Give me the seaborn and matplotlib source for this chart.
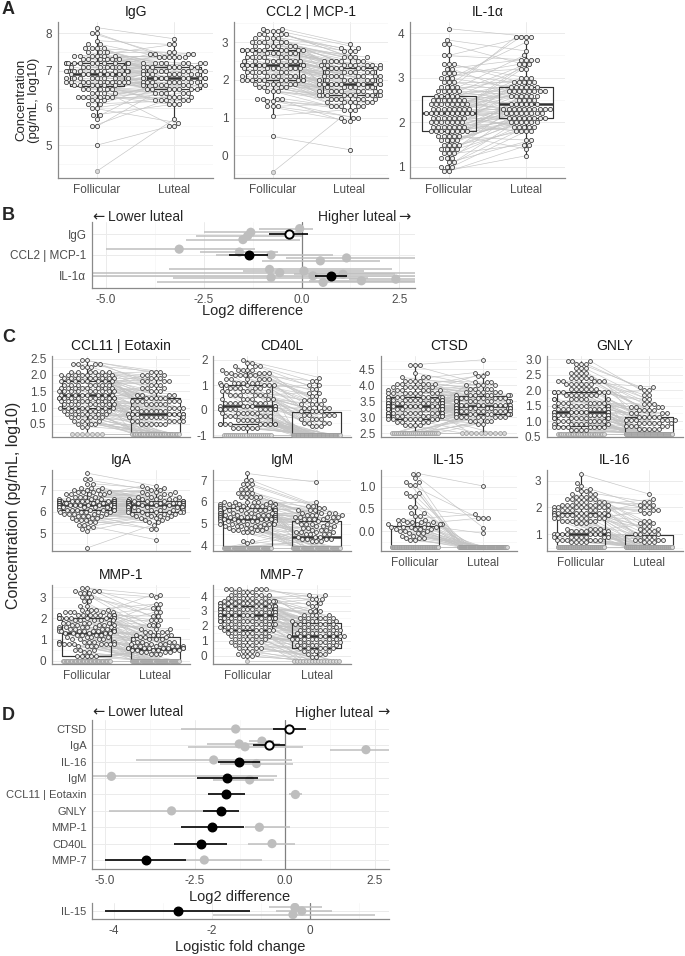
import warnings

import matplotlib
matplotlib.use("Agg")
import matplotlib.pyplot as plt
import numpy as np
import pandas as pd
import seaborn as sns

warnings.filterwarnings("ignore")

W, H = 685, 956
PHASES = ["Follicular", "Luteal"]

# ---------------------------------------------------------------------------
# Concentrations (log10 pg/mL): value levels and number of samples per level.
# *_LOD is the lower limit of detection, *_LOD_N = [follicular, luteal] counts.
# ---------------------------------------------------------------------------
IGG_FOL_V = [8.15, 8.0, 7.8, 7.7, 7.6, 7.5, 7.4, 7.3, 7.2, 7.1, 7.0, 6.9, 6.8, 6.7, 6.6, 6.5, 6.4, 6.3, 6.2, 6.1, 6.0, 5.8, 5.7, 5.5, 5.0]
IGG_FOL_N = [1, 2, 1, 2, 4, 3, 6, 6, 12, 8, 10, 8, 8, 10, 6, 5, 4, 6, 3, 2, 2, 2, 1, 2, 1]
IGG_LUT_V = [7.85, 7.7, 7.5, 7.45, 7.35, 7.2, 7.1, 7.0, 6.9, 6.8, 6.7, 6.6, 6.5, 6.4, 6.3, 6.2, 6.1, 5.7, 5.6, 5.5]
IGG_LUT_N = [1, 2, 2, 4, 6, 8, 8, 8, 8, 10, 8, 8, 7, 5, 4, 5, 3, 1, 1, 2]
IGG_LOD, IGG_LOD_N = 4.3, [1, 0]

CCL2_FOL_V = [3.35, 3.3, 3.2, 3.1, 3.0, 2.9, 2.8, 2.7, 2.6, 2.5, 2.4, 2.3, 2.2, 2.1, 2.0, 1.9, 1.8, 1.7, 1.5, 1.45, 1.3, 1.05, 0.5]
CCL2_FOL_N = [2, 3, 4, 4, 5, 6, 10, 6, 6, 8, 12, 8, 6, 8, 10, 6, 4, 3, 4, 2, 3, 1, 1]
CCL2_LUT_V = [2.95, 2.85, 2.75, 2.6, 2.5, 2.4, 2.3, 2.2, 2.1, 2.0, 1.9, 1.8, 1.7, 1.6, 1.5, 1.4, 1.3, 1.2, 1.0, 0.9, 0.15]
CCL2_LUT_N = [1, 2, 3, 4, 6, 8, 8, 6, 8, 8, 10, 6, 8, 10, 6, 6, 5, 3, 3, 2, 1]
CCL2_LOD, CCL2_LOD_N = -0.45, [1, 0]

IL1A_FOL_V = [4.1, 3.85, 3.75, 3.5, 3.3, 3.2, 3.1, 3.0, 2.9, 2.8, 2.7, 2.6, 2.5, 2.4, 2.3, 2.2, 2.1, 2.0, 1.9, 1.8, 1.7, 1.6, 1.5, 1.4, 1.3, 1.2, 1.1, 1.0, 0.9]
IL1A_FOL_N = [1, 1, 2, 2, 3, 2, 3, 3, 3, 4, 5, 5, 7, 8, 8, 10, 7, 7, 7, 8, 5, 4, 4, 4, 3, 3, 2, 3, 2]
IL1A_LUT_V = [3.92, 3.8, 3.6, 3.5, 3.4, 3.3, 3.2, 3.0, 2.9, 2.8, 2.7, 2.6, 2.5, 2.4, 2.3, 2.2, 2.1, 2.0, 1.9, 1.8, 1.6, 1.5, 1.4, 1.25]
IL1A_LUT_N = [4, 1, 1, 1, 4, 3, 2, 3, 5, 6, 8, 6, 4, 6, 10, 8, 8, 6, 5, 4, 2, 2, 1, 1]
IL1A_LOD, IL1A_LOD_N = 0.9, [0, 0]

CCL11_FOL_V = [2.45, 2.35, 2.25, 2.1, 2.0, 1.9, 1.8, 1.7, 1.6, 1.5, 1.4, 1.3, 1.2, 1.1, 1.0, 0.9, 0.8, 0.7, 0.6, 0.5, 0.42]
CCL11_FOL_N = [2, 4, 3, 6, 8, 8, 8, 7, 8, 9, 8, 12, 8, 8, 8, 7, 6, 5, 4, 3, 2]
CCL11_LUT_V = [2.1, 2.0, 1.9, 1.8, 1.7, 1.6, 1.5, 1.4, 1.3, 1.2, 1.1, 1.0, 0.9, 0.8, 0.7, 0.6, 0.5]
CCL11_LUT_N = [3, 3, 3, 4, 3, 3, 3, 4, 5, 6, 5, 6, 6, 8, 8, 6, 6]
CCL11_LOD, CCL11_LOD_N = 0.2, [7, 30]

CD40L_FOL_V = [2.0, 1.9, 1.75, 1.6, 1.5, 1.4, 1.25, 1.1, 1.0, 0.9, 0.75, 0.6, 0.45, 0.3, 0.15, 0.05, -0.1, -0.25, -0.4, -0.55, -0.7]
CD40L_FOL_N = [1, 2, 3, 5, 5, 5, 6, 6, 6, 5, 6, 6, 6, 7, 6, 10, 6, 6, 5, 9, 6]
CD40L_LUT_V = [1.3, 1.15, 1.0, 0.85, 0.7, 0.55, 0.4, 0.25, 0.1, -0.05, -0.2, -0.35, -0.5, -0.65]
CD40L_LUT_N = [1, 2, 2, 2, 2, 2, 3, 4, 4, 4, 5, 4, 4, 3]
CD40L_LOD, CD40L_LOD_N = -1.0, [24, 60]

CTSD_FOL_V = [4.65, 4.4, 4.25, 4.15, 4.05, 3.95, 3.85, 3.75, 3.65, 3.55, 3.45, 3.35, 3.25, 3.15, 3.05, 2.95, 2.85, 2.75]
CTSD_FOL_N = [3, 1, 3, 4, 5, 6, 6, 8, 8, 10, 12, 14, 14, 12, 10, 8, 4, 4]
CTSD_LUT_V = [4.8, 4.4, 4.3, 4.1, 4.0, 3.9, 3.8, 3.7, 3.6, 3.5, 3.4, 3.3, 3.2, 3.1, 3.0, 2.9, 2.8]
CTSD_LUT_N = [1, 2, 2, 3, 4, 4, 5, 7, 8, 9, 10, 12, 10, 9, 8, 4, 2]
CTSD_LOD, CTSD_LOD_N = 2.5, [25, 10]

GNLY_FOL_V = [2.95, 2.85, 2.7, 2.55, 2.4, 2.3, 2.2, 2.05, 1.95, 1.85, 1.7, 1.6, 1.5, 1.4, 1.3, 1.2, 1.1, 1.0, 0.9, 0.8, 0.7]
GNLY_FOL_N = [3, 3, 3, 4, 5, 5, 6, 6, 7, 7, 7, 7, 7, 8, 10, 10, 8, 7, 6, 8, 4]
GNLY_LUT_V = [2.1, 2.0, 1.85, 1.7, 1.55, 1.45, 1.35, 1.25, 1.15, 1.05, 0.95, 0.85, 0.75]
GNLY_LUT_N = [2, 2, 2, 2, 3, 4, 4, 4, 5, 6, 6, 5, 5]
GNLY_LOD, GNLY_LOD_N = 0.6, [28, 55]

IGA_FOL_V = [7.8, 7.5, 7.3, 7.1, 7.0, 6.9, 6.8, 6.7, 6.6, 6.5, 6.4, 6.3, 6.2, 6.1, 6.0, 5.9, 5.8, 5.7, 5.6, 5.5, 5.4, 5.3, 5.2, 5.1, 4.3]
IGA_FOL_N = [1, 2, 2, 3, 3, 4, 5, 4, 5, 14, 16, 14, 10, 8, 5, 5, 4, 3, 3, 2, 2, 2, 1, 1, 1]
IGA_LUT_V = [7.2, 7.1, 7.0, 6.9, 6.8, 6.7, 6.6, 6.5, 6.4, 6.3, 6.2, 6.1, 6.0, 5.9, 5.8, 5.7, 5.6, 5.5, 5.4, 5.2, 4.7]
IGA_LUT_N = [2, 2, 2, 3, 3, 4, 5, 8, 10, 10, 8, 6, 6, 4, 4, 3, 2, 2, 1, 2, 1]
IGA_LOD, IGA_LOD_N = 4.3, [0, 0]

IGM_FOL_V = [7.3, 7.0, 6.8, 6.6, 6.4, 6.2, 6.0, 5.9, 5.8, 5.7, 5.6, 5.5, 5.4, 5.3, 5.2, 5.1, 5.0, 4.9, 4.8, 4.7, 4.6, 4.2, 4.1]
IGM_FOL_N = [1, 2, 3, 3, 4, 5, 6, 6, 7, 7, 8, 9, 8, 8, 8, 7, 6, 5, 4, 4, 3, 2, 1]
IGM_LUT_V = [6.9, 6.0, 5.8, 5.7, 5.6, 5.5, 5.4, 5.3, 5.2, 5.1, 5.0, 4.9, 4.8, 4.7, 4.6, 4.5, 4.4, 4.3, 4.2]
IGM_LUT_N = [1, 1, 2, 2, 3, 4, 4, 5, 4, 4, 4, 3, 3, 3, 4, 4, 3, 4, 3]
IGM_LOD, IGM_LOD_N = 3.9, [45, 45]

IL15_FOL_V = [1.3, 1.2, 1.1, 1.05, 0.85, 0.8, 0.55, 0.4, 0.35, 0.25, 0.2, 0.15, 0.1, 0.05, 0.0, -0.05, -0.1, -0.15, -0.2]
IL15_FOL_N = [2, 1, 2, 2, 2, 2, 2, 2, 2, 3, 4, 6, 5, 4, 3, 3, 2, 3, 2]
IL15_LUT_V = [1.02, 0.38, 0.3, 0.08, -0.05]
IL15_LUT_N = [1, 1, 3, 1, 1]
IL15_LOD, IL15_LOD_N = -0.36, [68, 90]

IL16_FOL_V = [3.25, 2.9, 2.8, 2.7, 2.6, 2.5, 2.4, 2.3, 2.2, 2.1, 2.0, 1.9, 1.8, 1.7, 1.6, 1.5, 1.4, 1.2, 1.1, 1.0, 0.9, 0.8, 0.7]
IL16_FOL_N = [1, 1, 1, 2, 2, 3, 3, 4, 5, 6, 7, 7, 8, 8, 7, 5, 3, 4, 6, 8, 7, 6, 4]
IL16_LUT_V = [2.5, 2.3, 2.2, 2.1, 2.0, 1.9, 1.8, 1.5, 1.4, 1.3, 1.2, 1.1, 1.0, 0.9, 0.8, 0.72]
IL16_LUT_N = [1, 1, 2, 2, 2, 3, 2, 2, 2, 2, 2, 3, 3, 3, 4, 3]
IL16_LOD, IL16_LOD_N = 0.52, [70, 70]

MMP1_FOL_V = [3.45, 3.3, 3.2, 3.0, 2.8, 2.6, 2.4, 2.3, 2.15, 2.0, 1.9, 1.8, 1.7, 1.6, 1.5, 1.4, 1.3, 1.2, 1.1, 1.0, 0.9, 0.8, 0.7, 0.5, 0.4, 0.2]
MMP1_FOL_N = [2, 3, 3, 3, 2, 2, 4, 6, 10, 10, 5, 5, 5, 6, 6, 8, 5, 4, 4, 4, 6, 8, 4, 3, 2, 5]
MMP1_LUT_V = [3.1, 3.0, 2.7, 2.5, 2.3, 2.1, 1.9, 1.7, 1.5, 1.35, 1.2, 1.1, 1.0, 0.9, 0.8, 0.7, 0.6, 0.5, 0.4, 0.3]
MMP1_LUT_N = [2, 1, 2, 2, 2, 2, 3, 3, 3, 4, 4, 3, 4, 4, 5, 6, 8, 6, 4, 3]
MMP1_LOD, MMP1_LOD_N = 0.0, [36, 45]

MMP7_FOL_V = [4.5, 4.3, 4.1, 3.9, 3.7, 3.5, 3.3, 3.1, 2.9, 2.7, 2.5, 2.3, 2.1, 1.9, 1.7, 1.5, 1.3, 1.1, 0.9, 0.7, 0.5, 0.3, 0.1, -0.05]
MMP7_FOL_N = [6, 4, 5, 6, 8, 8, 10, 10, 10, 10, 10, 8, 8, 7, 7, 6, 5, 5, 4, 4, 3, 3, 2, 3]
MMP7_LUT_V = [4.05, 3.8, 3.5, 3.3, 3.0, 2.7, 2.5, 2.3, 2.1, 1.9, 1.7, 1.5, 1.3, 1.1, 0.9, 0.7, 0.5, 0.3, 0.1, -0.1]
MMP7_LUT_N = [2, 3, 2, 2, 3, 4, 5, 6, 6, 5, 6, 6, 8, 7, 6, 6, 5, 4, 3, 2]
MMP7_LOD, MMP7_LOD_N = -0.33, [1, 16]

# ---------------------------------------------------------------------------
# Forest plots: log2 difference (luteal vs follicular) with 95% CI.
# Black = this study, grey = previously published estimates.
# ---------------------------------------------------------------------------
B_LABELS = ["IgG", "CCL2 | MCP-1", "IL-1α"]
B_EST = [-0.33, -1.35, 0.74]
B_LO = [-0.84, -1.85, 0.33]
B_HI = [0.16, -0.86, 1.15]
B_NS = [True, False, False]
B_REF_ROW = ["IgG"] * 4 + ["CCL2 | MCP-1"] * 5 + ["IL-1α"] * 9
B_REF_EST = [-0.05, -1.3, -1.38, -1.5, -3.13, -1.59, -0.78, 1.15, 0.48,
             -0.82, 0.06, -0.56, 1.06, 0.29, -0.78, 2.41, 1.53, 0.55]
B_REF_LO = [-1.1, -2.5, -2.7, -2.95, -5.0, -2.6, -2.2, -0.4, -1.0,
            -3.4, -1.5, -5.4, -0.2, -5.4, -3.3, 1.2, 0.2, -3.7]
B_REF_HI = [0.3, -0.1, 0.0, -0.05, -1.2, -0.6, 0.8, 2.9, 2.0,
            2.3, 1.6, 2.9, 2.4, 2.9, 1.7, 2.9, 2.9, 2.9]

D_LABELS = ["CTSD", "IgA", "IL-16", "IgM", "CCL11 | Eotaxin", "GNLY", "MMP-1", "CD40L", "MMP-7"]
D_EST = [0.12, -0.45, -1.27, -1.6, -1.63, -1.78, -2.02, -2.33, -3.87]
D_LO = [-0.33, -0.88, -1.85, -2.43, -2.15, -2.28, -2.9, -3.08, -5.0]
D_HI = [0.58, 0.0, -0.68, -0.76, -1.11, -1.27, -1.14, -1.6, -2.76]
D_NS = [True, True, False, False, False, False, False, False, False]
D_REF_ROW = ["CTSD", "IgA", "IgA", "IgA", "IgA", "IL-16", "IL-16", "IgM", "IgM",
             "CCL11 | Eotaxin", "GNLY", "MMP-1", "CD40L", "MMP-7"]
D_REF_EST = [-1.37, -0.64, -1.27, -1.11, 2.25, -1.98, -0.79, -4.82, -0.98, 0.29, -3.15, -0.71, -0.36, -2.24]
D_REF_LO = [-2.9, -1.0, -2.17, -2.7, 1.25, -4.14, -1.8, -5.4, -2.0, 0.12, -4.9, -1.11, -1.02, -2.76]
D_REF_HI = [0.0, -0.3, -0.14, 0.5, 2.9, 0.19, 0.22, -0.23, -0.3, 0.48, -1.6, 0.14, 0.28, -0.65]

# IL-15: logistic fold change (detected vs not detected)
E_LABELS = ["IL-15"]
E_EST = [-2.69]
E_LO = [-4.18]
E_HI = [-1.22]
E_NS = [False]
E_REF_ROW = ["IL-15"] * 3
E_REF_EST = [-0.31, -0.17, -0.35]
E_REF_LO = [-0.83, -0.7, -1.98]
E_REF_HI = [0.24, 0.45, 1.33]

# ---------------------------------------------------------------------------
sns.set_style("white")
plt.rcParams["font.family"] = ["Liberation Sans", "DejaVu Sans"]
plt.rcParams["axes.unicode_minus"] = False

GRID = "#EBEBEB"
MINOR = "#F5F5F5"
AXIS = "#8A8A8A"
TICK = "#4D4D4D"
BOX = "#333333"
PT_FACE = "#EDEDED"
PT_EDGE = "#333333"
LOD_FACE = "#D9D9D9"
LOD_EDGE = "#9A9A9A"
LINE = "#C4C4C4"
REF = "#BEBEBE"

fig = plt.figure(figsize=(W / 100, H / 100), dpi=100)


def add_ax(left, top, right, bottom):
    return fig.add_axes([left / W, 1 - bottom / H, (right - left) / W, (bottom - top) / H])


def style(ax, fontsize=8.5):
    sns.despine(ax=ax)
    for s in ["left", "bottom"]:
        ax.spines[s].set_color(AXIS)
        ax.spines[s].set_linewidth(0.9)
    ax.tick_params(which="major", colors=AXIS, labelcolor=TICK, length=2.5, width=0.7,
                   pad=1.5, labelsize=fontsize)
    ax.tick_params(which="minor", length=0)
    ax.grid(True, which="major", color=GRID, lw=0.7)
    ax.grid(True, which="minor", color=MINOR, lw=0.5)
    ax.set_axisbelow(True)


def lod_positions(center, n, ax):
    ppu = ax.get_position().width * W / 2  # pixels per category
    step = min(5.0 / ppu, 0.7 / max(n, 1))
    return center + (np.arange(n) - (n - 1) / 2) * step


PAIRS = []


def box_panel(ax, title, fol_v, fol_n, lut_v, lut_n, lod, lod_n, ylim, yticks, fmt,
              mix, size=2.9, show_x=True):
    fol = np.repeat(np.asarray(fol_v, float), fol_n)
    lut = np.repeat(np.asarray(lut_v, float), lut_n)
    lod_f = np.full(lod_n[0], float(lod))
    lod_l = np.full(lod_n[1], float(lod))

    full = pd.DataFrame({
        "phase": ["Follicular"] * (len(fol) + len(lod_f)) + ["Luteal"] * (len(lut) + len(lod_l)),
        "value": np.concatenate([fol, lod_f, lut, lod_l]),
    })
    det = pd.DataFrame({
        "phase": ["Follicular"] * len(fol) + ["Luteal"] * len(lut),
        "value": np.concatenate([fol, lut]),
    })

    sns.boxplot(data=full, x="phase", y="value", order=PHASES, width=0.7, fill=False,
                color=BOX, linewidth=0.85, showfliers=False,
                medianprops={"linewidth": 1.8}, capprops={"linewidth": 0}, ax=ax)

    k0 = len(ax.collections)
    sns.swarmplot(data=det, x="phase", y="value", order=PHASES, size=size, color=PT_FACE,
                  edgecolor=PT_EDGE, linewidth=0.55, warn_thresh=1, ax=ax, zorder=4)
    swarms = ax.collections[k0:k0 + 2]

    xf = lod_positions(0, len(lod_f), ax)
    xl = lod_positions(1, len(lod_l), ax)
    if len(lod_f) + len(lod_l):
        lod_df = pd.DataFrame({"x": np.r_[xf, xl], "y": np.r_[lod_f, lod_l]})
        sns.scatterplot(data=lod_df, x="x", y="y", s=size ** 2, color=LOD_FACE,
                        edgecolor=LOD_EDGE, linewidth=0.55, ax=ax, zorder=3, legend=False)

    style(ax)
    ax.set_xlim(-0.5, 1.5)
    ax.set_ylim(*ylim)
    ax.set_yticks(yticks, [fmt.format(t) for t in yticks])
    d = yticks[1] - yticks[0]
    minor = [t - d / 2 for t in yticks] + [yticks[-1] + d / 2]
    ax.set_yticks([m for m in minor if ylim[0] < m < ylim[1]], minor=True)
    ax.set_xticks([0, 1], PHASES if show_x else ["", ""])
    ax.set_xlabel("")
    ax.set_ylabel("")
    ax.set_title(title, fontsize=10, pad=4, color="#1A1A1A")
    PAIRS.append(dict(ax=ax, swarms=swarms, fol=fol, lut=lut, xf=xf, xl=xl,
                      lod_f=lod_f, lod_l=lod_l, mix=mix, ylim=ylim))


def forest(ax, labels, est, lo, hi, ns, ref_row, ref_est, ref_lo, ref_hi,
           xlim, ylim, xticks, xlabels, minor, ysize=8.5):
    y = np.arange(len(labels), dtype=float)
    ry = np.array([labels.index(r) for r in ref_row], dtype=float)
    for row in np.unique(ry):
        idx = np.flatnonzero(ry == row)
        step = min(0.22, 0.7 / len(idx))
        ry[idx] += (np.arange(len(idx)) - (len(idx) - 1) / 2) * step

    ax.axvline(0, color="#808080", lw=0.9, zorder=1.5)
    ax.hlines(ry, ref_lo, ref_hi, color=REF, lw=1.1, zorder=2)
    sns.scatterplot(x=np.asarray(ref_est, float), y=ry, s=44, color=REF, edgecolor="none",
                    ax=ax, zorder=3, legend=False)
    ax.hlines(y, lo, hi, color="black", lw=1.2, zorder=4)
    est = np.asarray(est, float)
    ns = np.asarray(ns, bool)
    if (~ns).any():
        sns.scatterplot(x=est[~ns], y=y[~ns], s=38, color="black", edgecolor="black",
                        linewidth=1.0, ax=ax, zorder=5, legend=False)
    if ns.any():
        sns.scatterplot(x=est[ns], y=y[ns], s=36, color="white", edgecolor="black",
                        linewidth=1.4, ax=ax, zorder=5, legend=False)

    style(ax, fontsize=8.5)
    ax.tick_params(axis="y", labelsize=ysize)
    ax.set_xlim(*xlim)
    ax.set_ylim(*ylim)
    ax.set_yticks(y, labels)
    ax.set_xticks(xticks, xlabels)
    ax.set_xticks(minor, minor=True)
    ax.set_xlabel("")
    ax.set_ylabel("")


def ftext(x, y, s, **kw):
    fig.text(x / W, 1 - y / H, s, **kw)


# ---------------- panel A ----------------
box_panel(add_ax(58, 22, 213, 178), "IgG", IGG_FOL_V, IGG_FOL_N, IGG_LUT_V, IGG_LUT_N,
          IGG_LOD, IGG_LOD_N, (4.12, 8.3), [5, 6, 7, 8], "{:.0f}", mix=0.6, size=3.0)
box_panel(add_ax(234, 22, 388, 178), "CCL2 | MCP-1", CCL2_FOL_V, CCL2_FOL_N, CCL2_LUT_V,
          CCL2_LUT_N, CCL2_LOD, CCL2_LOD_N, (-0.6, 3.53), [0, 1, 2, 3], "{:.0f}", mix=0.25, size=3.0)
box_panel(add_ax(410, 22, 565, 178), "IL-1α", IL1A_FOL_V, IL1A_FOL_N, IL1A_LUT_V, IL1A_LUT_N,
          IL1A_LOD, IL1A_LOD_N, (0.75, 4.25), [1, 2, 3, 4], "{:.0f}", mix=0.8, size=3.0)

# ---------------- panel C ----------------
COLS = [(52, 190), (213, 351), (381, 517), (547, 683)]
ROWS = [(356, 437), (470, 551), (585, 664)]
C_PANELS = [
    ("CCL11 | Eotaxin", CCL11_FOL_V, CCL11_FOL_N, CCL11_LUT_V, CCL11_LUT_N, CCL11_LOD, CCL11_LOD_N,
     (0.1, 2.58), [0.5, 1.0, 1.5, 2.0, 2.5], "{:.1f}"),
    ("CD40L", CD40L_FOL_V, CD40L_FOL_N, CD40L_LUT_V, CD40L_LUT_N, CD40L_LOD, CD40L_LOD_N,
     (-1.08, 2.16), [-1, 0, 1, 2], "{:.0f}"),
    ("CTSD", CTSD_FOL_V, CTSD_FOL_N, CTSD_LUT_V, CTSD_LUT_N, CTSD_LOD, CTSD_LOD_N,
     (2.39, 4.92), [2.5, 3.0, 3.5, 4.0, 4.5], "{:.1f}"),
    ("GNLY", GNLY_FOL_V, GNLY_FOL_N, GNLY_LUT_V, GNLY_LUT_N, GNLY_LOD, GNLY_LOD_N,
     (0.49, 3.1), [0.5, 1.0, 1.5, 2.0, 2.5, 3.0], "{:.1f}"),
    ("IgA", IGA_FOL_V, IGA_FOL_N, IGA_LUT_V, IGA_LUT_N, IGA_LOD, IGA_LOD_N,
     (4.17, 7.94), [5, 6, 7], "{:.0f}"),
    ("IgM", IGM_FOL_V, IGM_FOL_N, IGM_LUT_V, IGM_LUT_N, IGM_LOD, IGM_LOD_N,
     (3.74, 7.46), [4, 5, 6, 7], "{:.0f}"),
    ("IL-15", IL15_FOL_V, IL15_FOL_N, IL15_LUT_V, IL15_LUT_N, IL15_LOD, IL15_LOD_N,
     (-0.45, 1.38), [0.0, 0.5, 1.0], "{:.1f}"),
    ("IL-16", IL16_FOL_V, IL16_FOL_N, IL16_LUT_V, IL16_LUT_N, IL16_LOD, IL16_LOD_N,
     (0.37, 3.4), [1, 2, 3], "{:.0f}"),
    ("MMP-1", MMP1_FOL_V, MMP1_FOL_N, MMP1_LUT_V, MMP1_LUT_N, MMP1_LOD, MMP1_LOD_N,
     (-0.16, 3.58), [0, 1, 2, 3], "{:.0f}"),
    ("MMP-7", MMP7_FOL_V, MMP7_FOL_N, MMP7_LUT_V, MMP7_LUT_N, MMP7_LOD, MMP7_LOD_N,
     (-0.56, 4.74), [0, 1, 2, 3, 4], "{:.0f}"),
]
for i, spec in enumerate(C_PANELS):
    r, c = divmod(i, 4)
    (l, rt), (t, b) = COLS[c], ROWS[r]
    show_x = r == 2 or (r == 1 and c >= 2)
    box_panel(add_ax(l, t, rt, b), *spec, mix=0.7, size=2.8, show_x=show_x)

# ---------------- panel B ----------------
axb = add_ax(92, 222, 415, 288)
forest(axb, B_LABELS, B_EST, B_LO, B_HI, B_NS, B_REF_ROW, B_REF_EST, B_REF_LO, B_REF_HI,
       (-5.36, 2.9), (2.58, -0.58), [-5, -2.5, 0, 2.5], ["-5.0", "-2.5", "0.0", "2.5"],
       [-3.75, -1.25, 1.25], ysize=8.5)

# ---------------- panel D ----------------
axd = add_ax(92, 720, 389, 869)
forest(axd, D_LABELS, D_EST, D_LO, D_HI, D_NS, D_REF_ROW, D_REF_EST, D_REF_LO, D_REF_HI,
       (-5.36, 2.89), (8.55, -0.55), [-5, -2.5, 0, 2.5], ["-5.0", "-2.5", "0.0", "2.5"],
       [-3.75, -1.25, 1.25], ysize=8)
axe = add_ax(92, 903, 389, 919)
forest(axe, E_LABELS, E_EST, E_LO, E_HI, E_NS, E_REF_ROW, E_REF_EST, E_REF_LO, E_REF_HI,
       (-4.45, 1.61), (0.49, -0.49), [-4, -2, 0], ["-4", "-2", "0"], [-3, -1, 1], ysize=8)

# ---------------- text ----------------
for letter, (x, y) in zip("ABCD", [(2, 10), (2, 216), (2, 337), (2, 716)]):
    ftext(x, y, letter, fontsize=13, fontweight="bold", va="center", ha="left")

ftext(28, 100, "Concentration\n(pg/mL, log10)", rotation=90, ha="center", va="center",
      fontsize=9.5, linespacing=1.05)
ftext(14, 505, "Concentration (pg/mL, log10)", rotation=90, ha="center", va="center", fontsize=11.5)

ARROW = dict(family="DejaVu Sans", fontsize=10.5, va="baseline")
for base, right_txt, right_arrow in [(221, 396, 410), (716.5, 373, 389)]:
    ftext(92, base, "←", ha="left", **ARROW)
    ftext(108, base, "Lower luteal", ha="left", va="baseline", fontsize=10)
    ftext(right_txt, base, "Higher luteal", ha="right", va="baseline", fontsize=10)
    ftext(right_arrow, base, "→", ha="right", **ARROW)

ftext(253, 311, "Log2 difference", ha="center", va="center", fontsize=10.5)
ftext(240, 897, "Log2 difference", ha="center", va="center", fontsize=10.5)
ftext(240, 947, "Logistic fold change", ha="center", va="center", fontsize=10.5)

# ---------------- paired lines (need swarm positions, so draw first) ----------------
fig.canvas.draw()
for p in PAIRS:
    ax = p["ax"]
    fx = np.r_[p["swarms"][0].get_offsets()[:, 0], p["xf"]]
    fy = np.r_[p["fol"], p["lod_f"]]
    lx = np.r_[p["swarms"][1].get_offsets()[:, 0], p["xl"]]
    ly = np.r_[p["lut"], p["lod_l"]]
    nf, nl = len(fy), len(ly)
    n = min(nf, nl)
    of = np.argsort(-fy, kind="stable")[np.round(np.linspace(0, nf - 1, n)).astype(int)]
    ol = np.argsort(-ly, kind="stable")[np.round(np.linspace(0, nl - 1, n)).astype(int)]
    r = np.arange(n)
    ol = ol[np.argsort(r + p["mix"] * n * ((r * 0.618034) % 1.0), kind="stable")]
    seg = pd.DataFrame({"pair": np.r_[r, r],
                        "x": np.r_[fx[of], lx[ol]],
                        "y": np.r_[fy[of], ly[ol]]})
    sns.lineplot(data=seg, x="x", y="y", units="pair", estimator=None, sort=False,
                 color=LINE, linewidth=0.45, ax=ax, zorder=1)
    ax.set_xlim(-0.5, 1.5)
    ax.set_ylim(*p["ylim"])
    ax.set_xlabel("")
    ax.set_ylabel("")

fig.savefig("out.png", dpi=100)
